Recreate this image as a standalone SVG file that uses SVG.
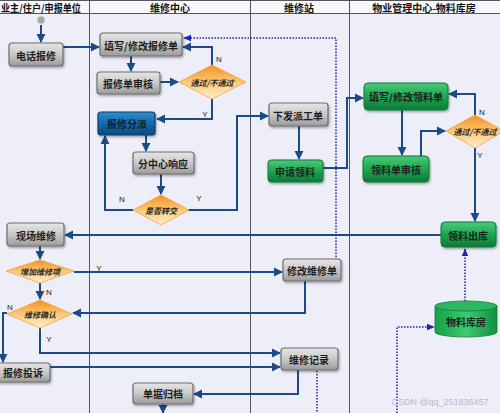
<svg xmlns="http://www.w3.org/2000/svg" width="500" height="413" viewBox="0 0 500 413">
<defs>
<linearGradient id="gGray" x1="0" y1="0" x2="0" y2="1"><stop offset="0" stop-color="#e6e6e6"/><stop offset="0.5" stop-color="#c8c8c8"/><stop offset="1" stop-color="#9a9a9a"/></linearGradient>
<linearGradient id="gBlue" x1="0" y1="0" x2="0" y2="1"><stop offset="0" stop-color="#2f8fd0"/><stop offset="0.5" stop-color="#1468a8"/><stop offset="1" stop-color="#0b4a80"/></linearGradient>
<linearGradient id="gGreen" x1="0" y1="0" x2="0" y2="1"><stop offset="0" stop-color="#4cc878"/><stop offset="0.5" stop-color="#1ea650"/><stop offset="1" stop-color="#0c7a36"/></linearGradient>
<linearGradient id="gOrange" x1="0" y1="0" x2="0" y2="1"><stop offset="0" stop-color="#f7901e"/><stop offset="0.5" stop-color="#fbc878"/><stop offset="1" stop-color="#fff0d0"/></linearGradient>
<linearGradient id="gCyl" x1="0" y1="0" x2="1" y2="0"><stop offset="0" stop-color="#17a048"/><stop offset="0.5" stop-color="#3ccb70"/><stop offset="1" stop-color="#109040"/></linearGradient>
<filter id="sh" x="-10%" y="-10%" width="130%" height="140%"><feDropShadow dx="1" dy="1.5" stdDeviation="0.8" flood-color="#000" flood-opacity="0.35"/></filter>
<marker id="ar" viewBox="0 0 10 10" refX="9" refY="5" markerWidth="4.6" markerHeight="4.6" orient="auto"><path d="M0,0 L10,5 L0,10 z" fill="#1b4a86"/></marker>
<marker id="ad" viewBox="0 0 10 10" refX="9" refY="5" markerWidth="5.5" markerHeight="5.5" orient="auto"><path d="M0,1 L10,5 L0,9 z" fill="#2222aa"/></marker>
</defs>
<style>
.ln{fill:none;stroke:#1b4a86;stroke-width:2}
.dt{fill:none;stroke:#2222aa;stroke-width:1.5;stroke-dasharray:1.5 1.5}
.lane{stroke:#555;stroke-width:1}
.gray{fill:url(#gGray);stroke:#6e6e6e;stroke-width:1.2}
.blue{fill:url(#gBlue);stroke:#0a3e70;stroke-width:1.2}
.green{fill:url(#gGreen);stroke:#0d7a36;stroke-width:1}
.dia{fill:url(#gOrange);stroke:#f0a040;stroke-width:0.8}
.t{font-family:"Noto Sans CJK SC","Noto Sans",sans-serif;font-size:10px;font-weight:bold;fill:#1e1e1e;text-anchor:middle;dominant-baseline:central}
.tw{fill:#10202e}
.td{font-family:"Noto Sans CJK SC","Noto Sans",sans-serif;font-size:8px;font-style:italic;font-weight:bold;fill:#2a2a2a;text-anchor:middle;dominant-baseline:central}
.h{font-family:"Noto Sans CJK SC","Noto Sans",sans-serif;font-size:10px;font-weight:bold;fill:#111;text-anchor:middle;dominant-baseline:central}
.lb{font-family:"Liberation Sans",Arial,sans-serif;font-size:8px;fill:#222;text-anchor:middle;dominant-baseline:central}
</style>
<rect x="0" y="0" width="500" height="413" fill="#eeeef9"/>
<rect x="0" y="0" width="500" height="13" fill="#f8f8fc"/>
<g id="lanes">
<line class="lane" x1="0" y1="0.5" x2="500" y2="0.5"/>
<line class="lane" x1="0" y1="13.5" x2="500" y2="13.5"/>
<line class="lane" x1="89.5" y1="0" x2="89.5" y2="413"/>
<line class="lane" x1="250.5" y1="0" x2="250.5" y2="413"/>
<line class="lane" x1="349.5" y1="0" x2="349.5" y2="413"/>
<text class="h" x="1" y="7" style="text-anchor:start" textLength="80" lengthAdjust="spacingAndGlyphs">业主/住户/申报单位</text>
<text class="h" x="170" y="7">维修中心</text>
<text class="h" x="299" y="7">维修站</text>
<text class="h" x="424" y="7">物业管理中心-物料库房</text>
</g>
<g id="connectors">
<path class="ln" d="M41,25 V42" marker-end="url(#ar)"/>
<path class="ln" d="M63,47 H99" marker-end="url(#ar)"/>
<path class="ln" d="M131,56 V71" marker-end="url(#ar)"/>
<path class="ln" d="M160,82 H178" marker-end="url(#ar)"/>
<path class="ln" d="M212,65 V47 H183" marker-end="url(#ar)"/>
<path class="ln" d="M212,99 V119 H157" marker-end="url(#ar)"/>
<path class="ln" d="M146,135 V151" marker-end="url(#ar)"/>
<path class="ln" d="M161,174 V194" marker-end="url(#ar)"/>
<path class="ln" d="M133,210 H105 V136" marker-end="url(#ar)"/>
<path class="ln" d="M188,210 H237 V116 H268" marker-end="url(#ar)"/>
<path class="ln" d="M299,126 V159" marker-end="url(#ar)"/>
<path class="ln" d="M323,168 H347 V98 H363" marker-end="url(#ar)"/>
<path class="ln" d="M402,110 V155" marker-end="url(#ar)"/>
<path class="ln" d="M421,156 V131 H445" marker-end="url(#ar)"/>
<path class="ln" d="M475,115 V94 H449" marker-end="url(#ar)"/>
<path class="ln" d="M475,148 V221" marker-end="url(#ar)"/>
<path class="ln" d="M441,235 H65" marker-end="url(#ar)"/>
<path class="ln" d="M40,246 V259" marker-end="url(#ar)"/>
<path class="ln" d="M74,272 H282" marker-end="url(#ar)"/>
<path class="ln" d="M40,283 V299" marker-end="url(#ar)"/>
<path class="ln" d="M305,281 V313 H73" marker-end="url(#ar)"/>
<path class="ln" d="M7,313 H3 V362" marker-end="url(#ar)"/>
<path class="ln" d="M40,328 V353 H280" marker-end="url(#ar)"/>
<path class="ln" d="M50,367 H280" marker-end="url(#ar)"/>
<path class="ln" d="M298,370 V394 H194" marker-end="url(#ar)"/>
<path class="ln" d="M163,404 V413" marker-end="url(#ar)"/>
<path class="dt" d="M336,260 V38 H184" marker-end="url(#ad)"/>
<path class="dt" d="M317,371 V413"/>
<path class="dt" d="M465,301 V249" marker-end="url(#ad)"/>
<path class="dt" d="M397,413 V327 H434" marker-end="url(#ad)"/>
<text class="lb" x="219" y="59">N</text>
<text class="lb" x="205" y="114">Y</text>
<text class="lb" x="122" y="199">N</text>
<text class="lb" x="199" y="198">Y</text>
<text class="lb" x="482" y="112">N</text>
<text class="lb" x="480" y="155">Y</text>
<text class="lb" x="99" y="268">Y</text>
<text class="lb" x="49" y="292">N</text>
<text class="lb" x="10" y="307">N</text>
<text class="lb" x="49" y="339">Y</text>
</g>
<g id="start"><circle cx="41" cy="20" r="4" fill="#a8a8a8" stroke="#d8d8d8" stroke-width="1"/></g>
<g id="n-dianhua"><rect class="gray" x="9" y="43" width="54" height="23" rx="3" filter="url(#sh)"/><text class="t" x="36" y="55">电话报修</text></g>
<g id="n-tianxie1"><rect class="gray" x="100" y="33" width="82" height="23" rx="3" filter="url(#sh)"/><text class="t" x="141" y="45">填写/修改报修单</text></g>
<g id="n-shenhe"><rect class="gray" x="97" y="72" width="63" height="22" rx="3" filter="url(#sh)"/><text class="t" x="128" y="83">报修单审核</text></g>
<g id="d-tongguo1"><polygon class="dia" points="179,82 212,65 246,82 212,99"/><text class="td" x="212" y="82">通过/不通过</text></g>
<g id="n-fenpai"><rect class="blue" x="98" y="112" width="57" height="23" rx="3" filter="url(#sh)"/><text class="t tw" x="127" y="123">报修分派</text></g>
<g id="n-xiangying"><rect class="gray" x="133" y="152" width="61" height="22" rx="3" filter="url(#sh)"/><text class="t" x="163" y="163">分中心响应</text></g>
<g id="d-zhuanjiao"><polygon class="dia" points="133,210 161,195 189,210 161,225"/><text class="td" x="161" y="210">是否转交</text></g>
<g id="n-paigong"><rect class="gray" x="269" y="103" width="59" height="23" rx="3" filter="url(#sh)"/><text class="t" x="298" y="115">下发派工单</text></g>
<g id="n-shenqing"><rect class="green" x="268" y="160" width="55" height="22" rx="3" filter="url(#sh)"/><text class="t" x="295" y="171">申请领料</text></g>
<g id="n-tianxie2"><rect class="green" x="364" y="83" width="84" height="27" rx="4" filter="url(#sh)"/><text class="t" x="406" y="96">填写/修改领料单</text></g>
<g id="d-tongguo2"><polygon class="dia" points="446,131 475,115 504,131 475,148"/><text class="td" x="475" y="131">通过/不通过</text></g>
<g id="n-lingliaoshenhe"><rect class="green" x="363" y="156" width="66" height="26" rx="4" filter="url(#sh)"/><text class="t" x="396" y="169">领料单审核</text></g>
<g id="n-chuku"><rect class="green" x="441" y="222" width="55" height="25" rx="4" filter="url(#sh)"/><text class="t" x="468" y="235">领料出库</text></g>
<g id="n-xianchang"><rect class="gray" x="7" y="223" width="57" height="23" rx="3" filter="url(#sh)"/><text class="t" x="36" y="235">现场维修</text></g>
<g id="d-zengjia"><polygon class="dia" points="6,271 40,260 74,271 40,283"/><text class="td" x="40" y="271">增加维修项</text></g>
<g id="d-queren"><polygon class="dia" points="7,314 40,300 72,314 40,328"/><text class="td" x="40" y="314">维修确认</text></g>
<g id="n-tousu"><rect class="gray" x="-4" y="363" width="54" height="19" rx="3" filter="url(#sh)"/><text class="t" x="23" y="372">报修投诉</text></g>
<g id="n-xiugai"><rect class="gray" x="283" y="259" width="58" height="22" rx="3" filter="url(#sh)"/><text class="t" x="312" y="270">修改维修单</text></g>
<g id="n-jilu"><rect class="gray" x="281" y="348" width="57" height="22" rx="3" filter="url(#sh)"/><text class="t" x="309" y="359">维修记录</text></g>
<g id="n-guidang"><rect class="gray" x="133" y="383" width="60" height="21" rx="3" filter="url(#sh)"/><text class="t" x="163" y="393">单据归档</text></g>
<g id="n-kufang"><path d="M435,306 V332 A31,5 0 0 0 497,332 V306 Z" fill="url(#gCyl)" stroke="#0d7a36" stroke-width="0.8"/><ellipse cx="466" cy="306" rx="31" ry="5" fill="#2cb860" stroke="#0d7a36" stroke-width="0.8"/><text class="t" x="466" y="321">物料库房</text></g>
<text x="440" y="405" font-family="'Liberation Sans',Arial,sans-serif" font-size="9" fill="#b8b8c8" text-anchor="middle">CSDN @qq_251836457</text>
</svg>
